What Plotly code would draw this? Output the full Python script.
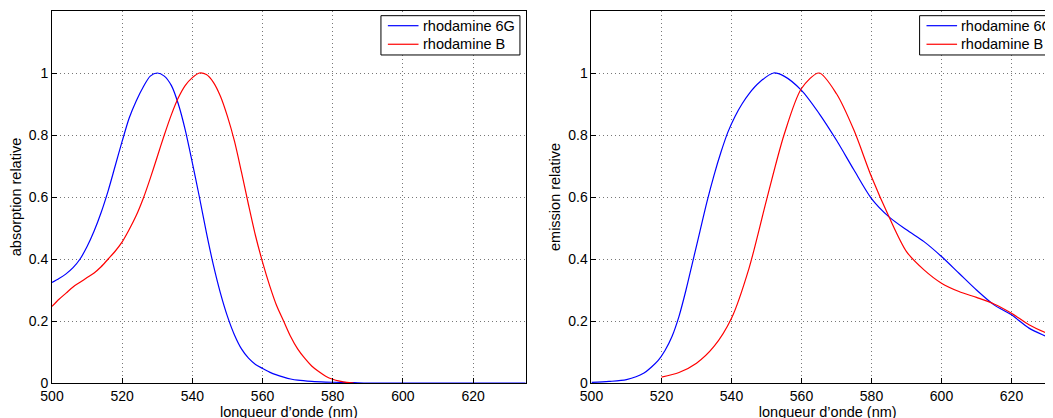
import plotly.graph_objects as go

# --- absorption (gauche) ---
abs_nm = [500, 502, 504, 506, 508, 510, 512, 514, 516, 518, 520, 522, 524, 526, 528, 530,
          532, 534, 536, 538, 540, 542, 544, 546, 548, 550, 552, 554, 556, 558, 560, 562,
          564, 566, 568, 570, 574, 578, 582, 586, 590, 600, 610, 620, 635]
abs_6g = [0.324, 0.337, 0.352, 0.372, 0.40, 0.44, 0.49, 0.55, 0.62, 0.70, 0.78, 0.855, 0.91,
          0.955, 0.99, 1.0, 0.99, 0.96, 0.90, 0.815, 0.71, 0.60, 0.485, 0.38, 0.29, 0.215,
          0.155, 0.11, 0.08, 0.06, 0.047, 0.035, 0.026, 0.019, 0.013, 0.009, 0.005, 0.003,
          0.002, 0.001, 0.0, 0.0, 0.0, 0.0, 0.0]

absb_nm = [500, 502, 504, 506, 508, 510, 512, 514, 516, 518, 520, 522, 524, 526, 528, 530,
           532, 534, 536, 538, 540, 542, 544, 546, 548, 550, 552, 554, 556, 558, 560, 562,
           564, 566, 568, 570, 572, 574, 576, 578, 580, 582, 584, 586]
abs_b = [0.247, 0.27, 0.29, 0.31, 0.325, 0.34, 0.355, 0.375, 0.40, 0.425, 0.455, 0.495, 0.54,
         0.595, 0.66, 0.73, 0.80, 0.865, 0.92, 0.96, 0.985, 1.0, 0.995, 0.97, 0.925, 0.86,
         0.78, 0.68, 0.575, 0.475, 0.39, 0.315, 0.25, 0.20, 0.15, 0.11, 0.08, 0.055, 0.037,
         0.022, 0.012, 0.006, 0.002, 0.0]

# --- emission (droite) ---
em_nm = [500, 505, 510, 515, 517, 519, 521, 523, 525, 527, 529, 531, 533, 535, 537, 539,
         541, 543, 545, 548, 552, 555, 560, 565, 570, 575, 580, 585, 590, 595, 600, 605,
         610, 615, 620, 625, 630, 635]
em_6g = [0.002, 0.005, 0.011, 0.032, 0.05, 0.072, 0.105, 0.15, 0.215, 0.30, 0.395, 0.49,
         0.585, 0.67, 0.745, 0.81, 0.86, 0.90, 0.933, 0.97, 1.0, 0.99, 0.944, 0.87, 0.783,
         0.687, 0.595, 0.536, 0.494, 0.456, 0.408, 0.354, 0.30, 0.252, 0.22, 0.177, 0.15,
         0.125]

emb_nm = [520, 525, 530, 535, 540, 545, 550, 555, 560, 565, 570, 575, 580, 585, 590, 595,
          600, 605, 610, 615, 620, 625, 630, 635]
em_b = [0.019, 0.034, 0.064, 0.118, 0.209, 0.37, 0.59, 0.80, 0.95, 1.0, 0.933, 0.815, 0.665,
        0.536, 0.424, 0.365, 0.322, 0.295, 0.276, 0.255, 0.225, 0.188, 0.161, 0.14]

series_names = ["rhodamine 6G", "rhodamine B"]
series_colors = ["#0000ff", "#ff0000"]

y_ticks = [0, 0.2, 0.4, 0.6, 0.8, 1]
y_labels = ["0", "0.2", "0.4", "0.6", "0.8", "1"]
x_ticks = [500, 520, 540, 560, 580, 600, 620]

FAMILY = "Liberation Sans, Arial, Helvetica, sans-serif"
TICKFONT = dict(family=FAMILY, size=14, color="black")
TEXTFONT = dict(family=FAMILY, size=14.5, color="black")

# la page a une marge de 8px ; la figure deborde a droite comme l'original
FW, FH = 1070, 418

fig = go.Figure()
curves = [
    (abs_nm, abs_6g, 0, "x", "y"),
    (absb_nm, abs_b, 1, "x", "y"),
    (em_nm, em_6g, 0, "x2", "y2"),
    (emb_nm, em_b, 1, "x2", "y2"),
]
for xs, ys, k, xa_id, ya_id in curves:
    fig.add_trace(go.Scatter(x=xs, y=ys, mode="lines", name=series_names[k],
                             line=dict(color=series_colors[k], width=1.2, shape="spline",
                                       smoothing=0.8),
                             xaxis=xa_id, yaxis=ya_id, showlegend=False, hoverinfo="x+y"))

axis_common = dict(showline=True, linecolor="black", linewidth=1,
                   ticks="inside", ticklen=5, tickcolor="black",
                   showgrid=True, gridcolor="#777777", griddash="1px,3px", gridwidth=1,
                   zeroline=False, tickfont=TICKFONT)

xa = dict(axis_common, range=[500, 635], tickvals=x_ticks, mirror=True,
          title=dict(text="longueur d’onde (nm)", font=TEXTFONT, standoff=1))
ya = dict(axis_common, range=[0, 1.2], tickvals=y_ticks, ticktext=y_labels, mirror=True)

fig.update_layout(
    width=FW, height=FH,
    margin=dict(l=44.3, r=13.8, t=3, b=42.7, autoexpand=False),
    paper_bgcolor="white", plot_bgcolor="white",
    font=TICKFONT,
    showlegend=False,
    xaxis=dict(xa, domain=[0, 0.4681], anchor="y"),
    yaxis=dict(ya, domain=[0, 1], anchor="x",
               title=dict(text="absorption relative", font=TEXTFONT, standoff=4)),
    xaxis2=dict(xa, domain=[0.5331, 1.0], anchor="y2"),
    yaxis2=dict(ya, domain=[0, 1], anchor="x2",
                title=dict(text="emission relative", font=TEXTFONT, standoff=4)),
)

# legende style matlab (boite en haut a droite de chaque graphe)
for xr, yr in [("x domain", "y domain"), ("x2 domain", "y2 domain")]:
    fig.add_shape(type="rect", xref=xr, yref=yr, x0=0.6944, x1=0.9878, y0=0.8818, y1=0.9874,
                  line=dict(color="black", width=1), fillcolor="white", layer="above")
    for k, ypos in enumerate([0.9605, 0.9106]):
        fig.add_shape(type="line", xref=xr, yref=yr, x0=0.709, x1=0.7737, y0=ypos, y1=ypos,
                      line=dict(color=series_colors[k], width=1.2), layer="above")
        fig.add_annotation(xref=xr, yref=yr, x=0.783, y=ypos, text=series_names[k],
                           showarrow=False, xanchor="left", yanchor="middle",
                           font=TEXTFONT, xshift=-2)

fig.write_html("out.html")
